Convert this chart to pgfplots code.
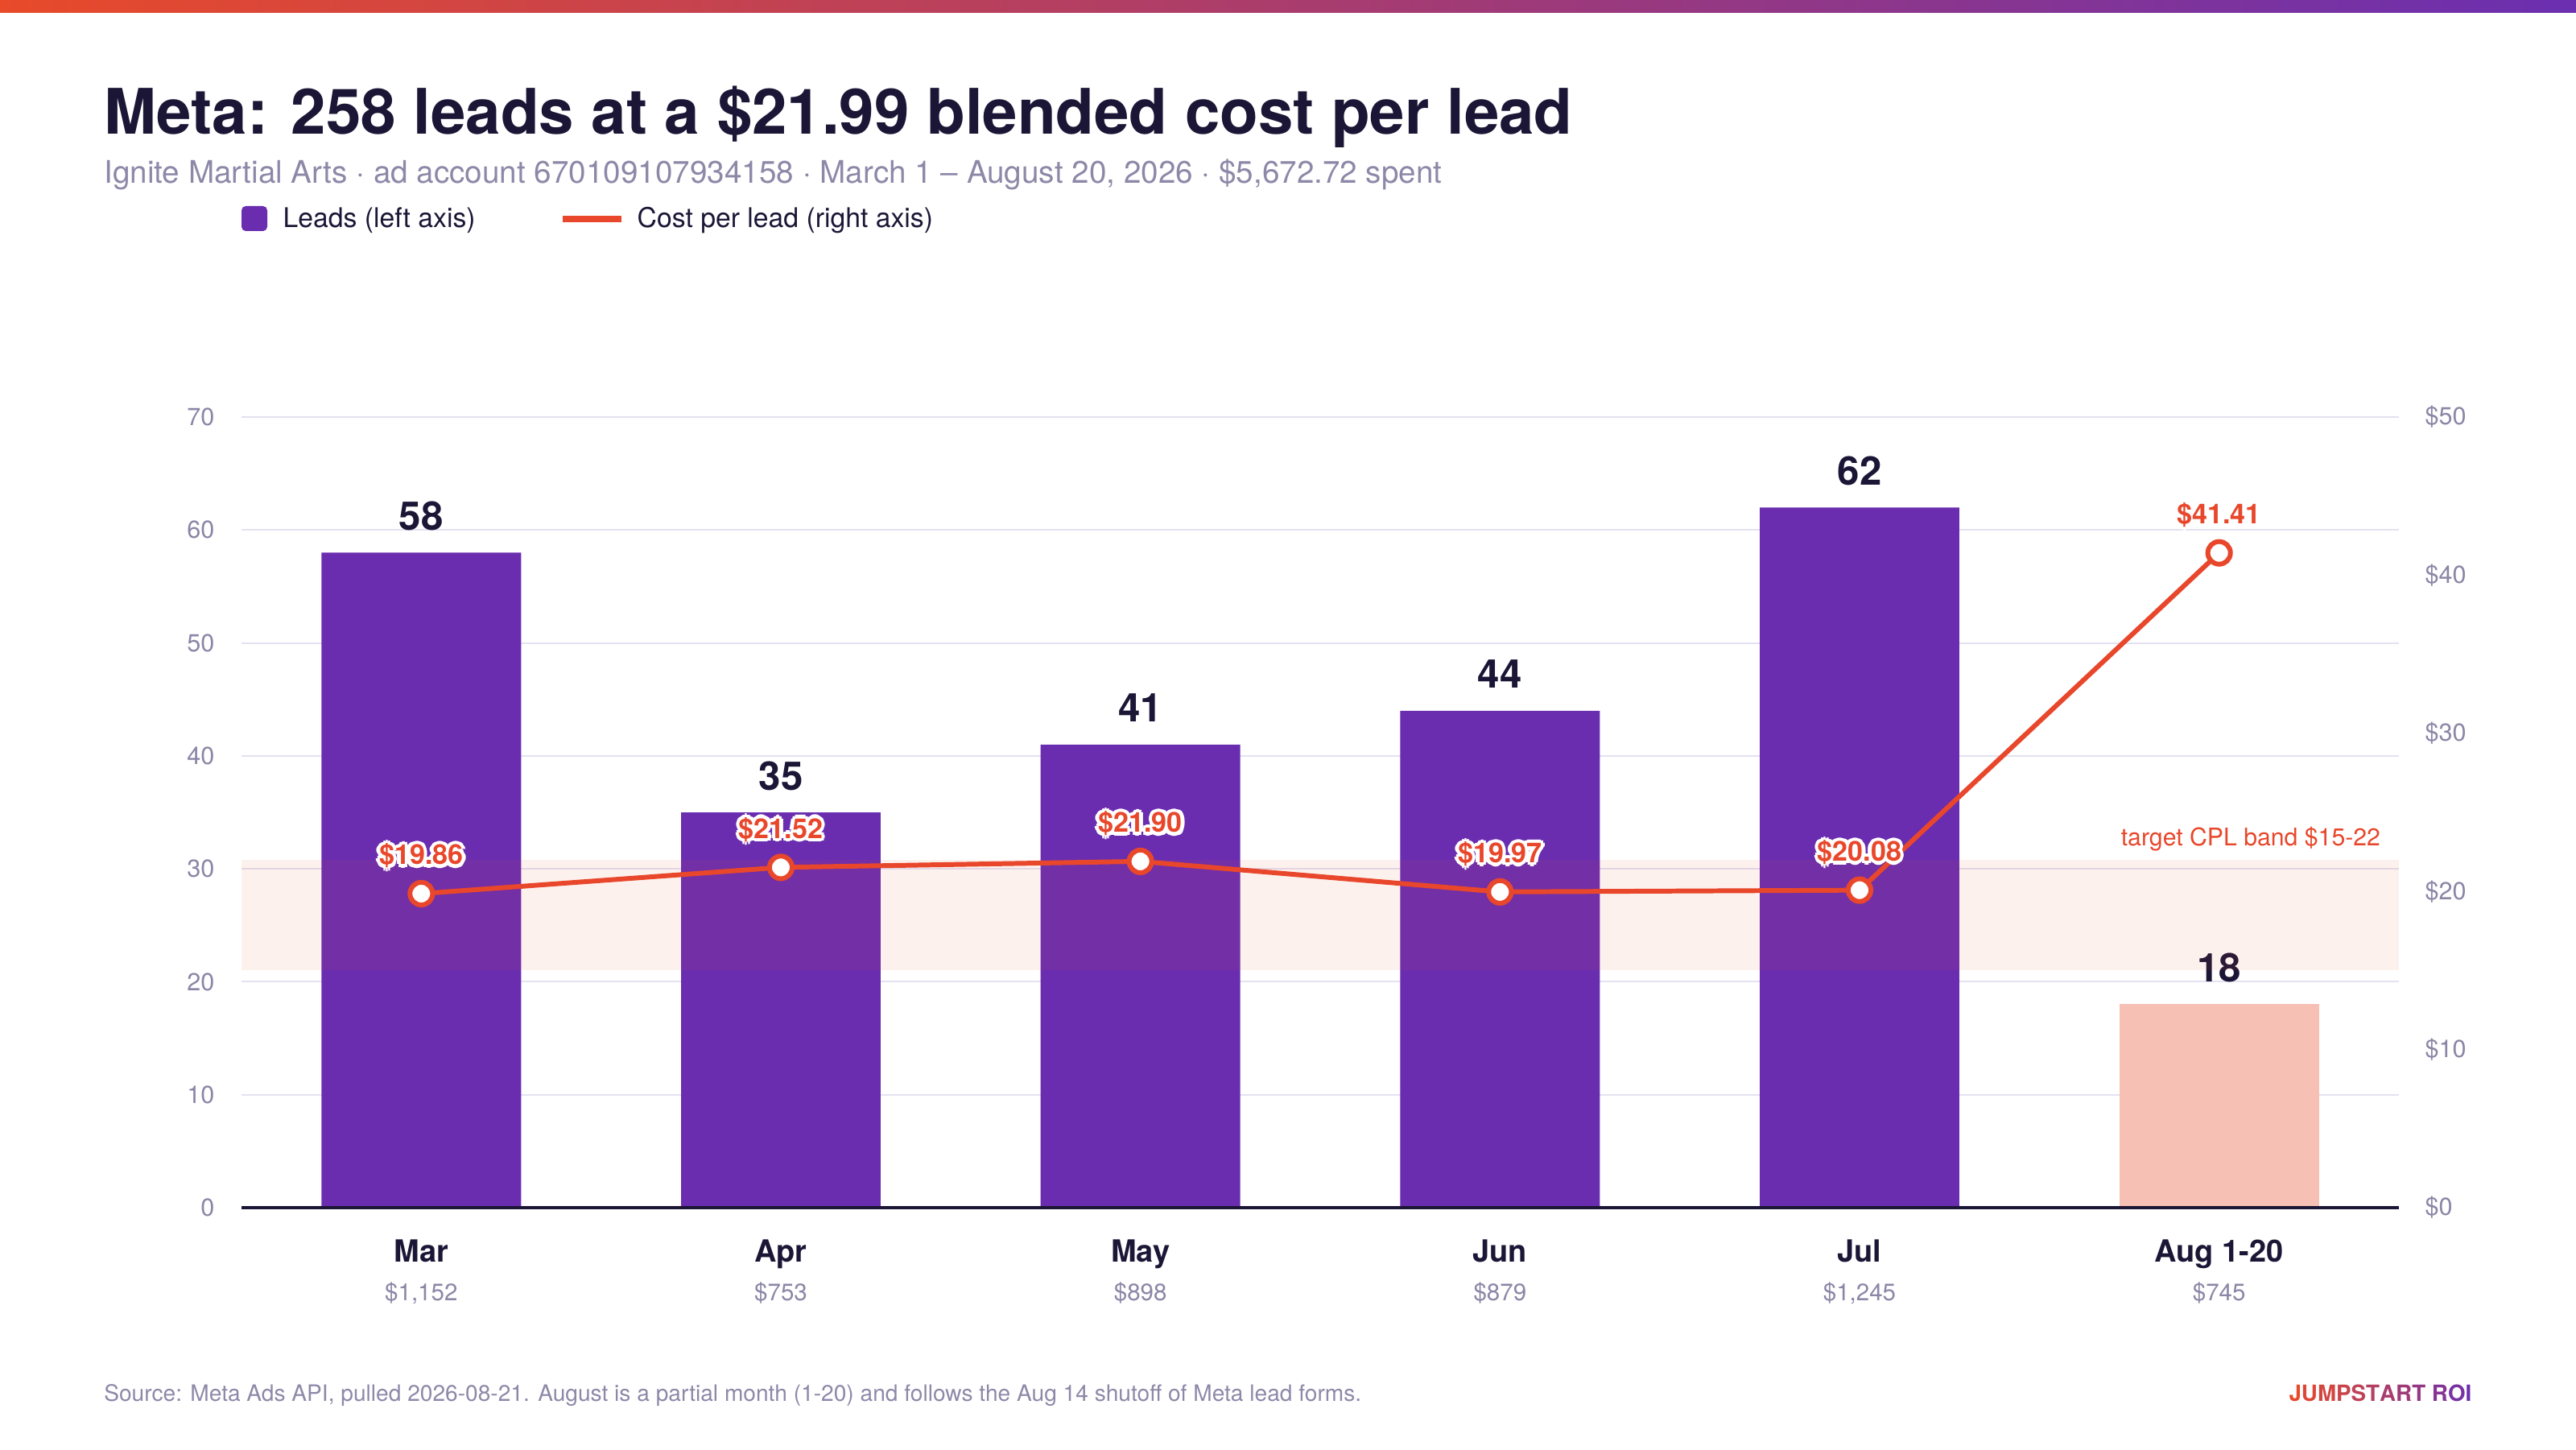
\documentclass[border=0pt]{standalone}
\usepackage{pgfplots}
\pgfplotsset{compat=1.18}
\usepackage{fontspec}
\setmainfont{TeX Gyre Heros}
\setsansfont{TeX Gyre Heros}
\definecolor{barpurple}{HTML}{6A2DB0}
\definecolor{salmon}{HTML}{F6C0B4}
\definecolor{cplred}{HTML}{E8472B}
\definecolor{navy}{HTML}{1C1636}
\definecolor{subgray}{HTML}{8E88A8}
\definecolor{tickgray}{HTML}{8A86A6}
\definecolor{gridc}{HTML}{E4E2F0}
\definecolor{gradL}{HTML}{E84A2A}
\definecolor{gradR}{HTML}{6B2FB0}
\newcommand\fs[1]{\fontsize{#1}{#1}\selectfont}
\newcommand\hx[3]{\rlap{\kern#1\raisebox{#2}{\color{white}#3}}}
\newcommand\halo[1]{\hx{1.3pt}{0pt}{#1}\hx{-1.3pt}{0pt}{#1}\hx{0pt}{1.3pt}{#1}\hx{0pt}{-1.3pt}{#1}\hx{0.9pt}{0.9pt}{#1}\hx{-0.9pt}{0.9pt}{#1}\hx{0.9pt}{-0.9pt}{#1}\hx{-0.9pt}{-0.9pt}{#1}#1}
\newcommand\brand{\textcolor{gradR!0!gradL}{J}\textcolor{gradR!9!gradL}{U}\textcolor{gradR!17!gradL}{M}\textcolor{gradR!25!gradL}{P}\textcolor{gradR!33!gradL}{S}\textcolor{gradR!42!gradL}{T}\textcolor{gradR!50!gradL}{A}\textcolor{gradR!58!gradL}{R}\textcolor{gradR!67!gradL}{T} \textcolor{gradR!80!gradL}{R}\textcolor{gradR!90!gradL}{O}\textcolor{gradR!100!gradL}{I}}
\begin{document}
\begin{tikzpicture}[x=1cm,y=1cm]
\useasboundingbox (0,0) rectangle (32,18);
\shade[left color=gradL, right color=gradR] (0,17.84) rectangle (32,18);
\node[anchor=base west, inner sep=0, text=navy, font=\fs{22.2pt}\bfseries] at (1.286,16.33) {Meta: 258 leads at a \$21.99 blended cost per lead};
\node[anchor=base west, inner sep=0, text=subgray, font=\fs{11pt}] at (1.286,15.72) {Ignite Martial Arts · ad account 670109107934158 · March 1 – August 20, 2026 · \$5,672.72 spent};
\fill[barpurple, rounded corners=1.5pt] (3.00,15.13) rectangle (3.32,15.44);
\node[anchor=base west, inner sep=0, font=\fs{9.6pt}, text=navy] at (3.51,15.17) {Leads (left axis)};
\draw[cplred, line width=2pt] (6.99,15.28) -- (7.72,15.28);
\node[anchor=base west, inner sep=0, font=\fs{9.6pt}, text=navy] at (7.91,15.17) {Cost per lead (right axis)};
\node[anchor=base west, inner sep=0, text=subgray, font=\fs{8pt}] at (1.286,0.60) {Source: Meta Ads API, pulled 2026-08-21. August is a partial month (1-20) and follows the Aug 14 shutoff of Meta lead forms.};
\node[anchor=base east, inner sep=0, font=\fs{7.9pt}\bfseries] at (30.71,0.60) {\brand};

\begin{axis}[at={(3cm,3cm)}, anchor=south west, width=26.8cm, height=9.82cm, scale only axis,
  xmin=-0.5, xmax=5.5, ymin=0, ymax=70,
  ytick={0,10,...,70}, xtick={0,...,5},
  xticklabels={Mar,Apr,May,Jun,Jul,Aug 1-20},
  xticklabel style={anchor=base, yshift=-0.67cm, font=\fs{10.8pt}\bfseries, text=navy, inner sep=0pt},
  yticklabel style={anchor=east, xshift=-0.33cm, inner sep=0pt, font=\fs{8.7pt}, text=tickgray},
  /pgf/number format/assume math mode=true,
  ymajorgrids, grid style={draw=gridc, line width=0.6pt},
  axis line style={draw=none}, tick style={draw=none}, major tick length=0pt,
  ytick pos=left, xtick pos=bottom,
  clip=false]
\addplot[ybar, bar width=0.555, bar shift=0pt, fill=barpurple, draw=none,
  nodes near coords, every node near coord/.append style={anchor=base, yshift=0.28cm, font=\fs{14pt}\bfseries, text=navy}]
  coordinates {(0,58) (1,35) (2,41) (3,44) (4,62)};
\addplot[ybar, bar width=0.555, bar shift=0pt, fill=salmon, draw=none,
  nodes near coords, every node near coord/.append style={anchor=base, yshift=0.28cm, font=\fs{14pt}\bfseries, text=navy}]
  coordinates {(5,18)};
\draw[navy, line width=1.3pt] (axis cs:-0.5,0) -- (axis cs:5.5,0);
\end{axis}

\begin{axis}[at={(3cm,3cm)}, anchor=south west, width=26.8cm, height=9.82cm, scale only axis,
  xmin=-0.5, xmax=5.5, ymin=0, ymax=50,
  ytick={0,10,...,50}, xtick={0,...,5},
  yticklabel={\$\pgfmathprintnumber{\tick}},
  xticklabels={{\$1,152},{\$753},{\$898},{\$879},{\$1,245},{\$745}},
  xticklabel style={anchor=base, yshift=-1.15cm, font=\fs{8.4pt}, text=tickgray, inner sep=0pt},
  yticklabel style={anchor=west, xshift=0.32cm, inner sep=0pt, font=\fs{8.7pt}, text=tickgray},
  /pgf/number format/assume math mode=true,
  axis line style={draw=none}, tick style={draw=none}, major tick length=0pt,
  ytick pos=right, xtick pos=bottom,
  clip=false]
\fill[cplred, opacity=0.08] (axis cs:-0.5,15) rectangle (axis cs:5.5,22);
\node[anchor=base east, inner sep=0pt, text=cplred, font=\fs{8.6pt}] at (axis cs:5.45,22.9) {target CPL band \$15-22};
\addplot[cplred, line width=1.7pt, mark=*, mark size=4pt, mark options={fill=white, draw=cplred, line width=1.7pt},
  point meta=explicit symbolic,
  nodes near coords={\halo{\pgfplotspointmeta}},
  every node near coord/.append style={anchor=base, yshift=0.36cm, font=\fs{9.7pt}\bfseries, text=cplred}]
  coordinates {(0,19.86) [\$19.86] (1,21.52) [\$21.52] (2,21.90) [\$21.90] (3,19.97) [\$19.97] (4,20.08) [\$20.08] (5,41.41) [\$41.41]};
\end{axis}
\end{tikzpicture}
\end{document}
